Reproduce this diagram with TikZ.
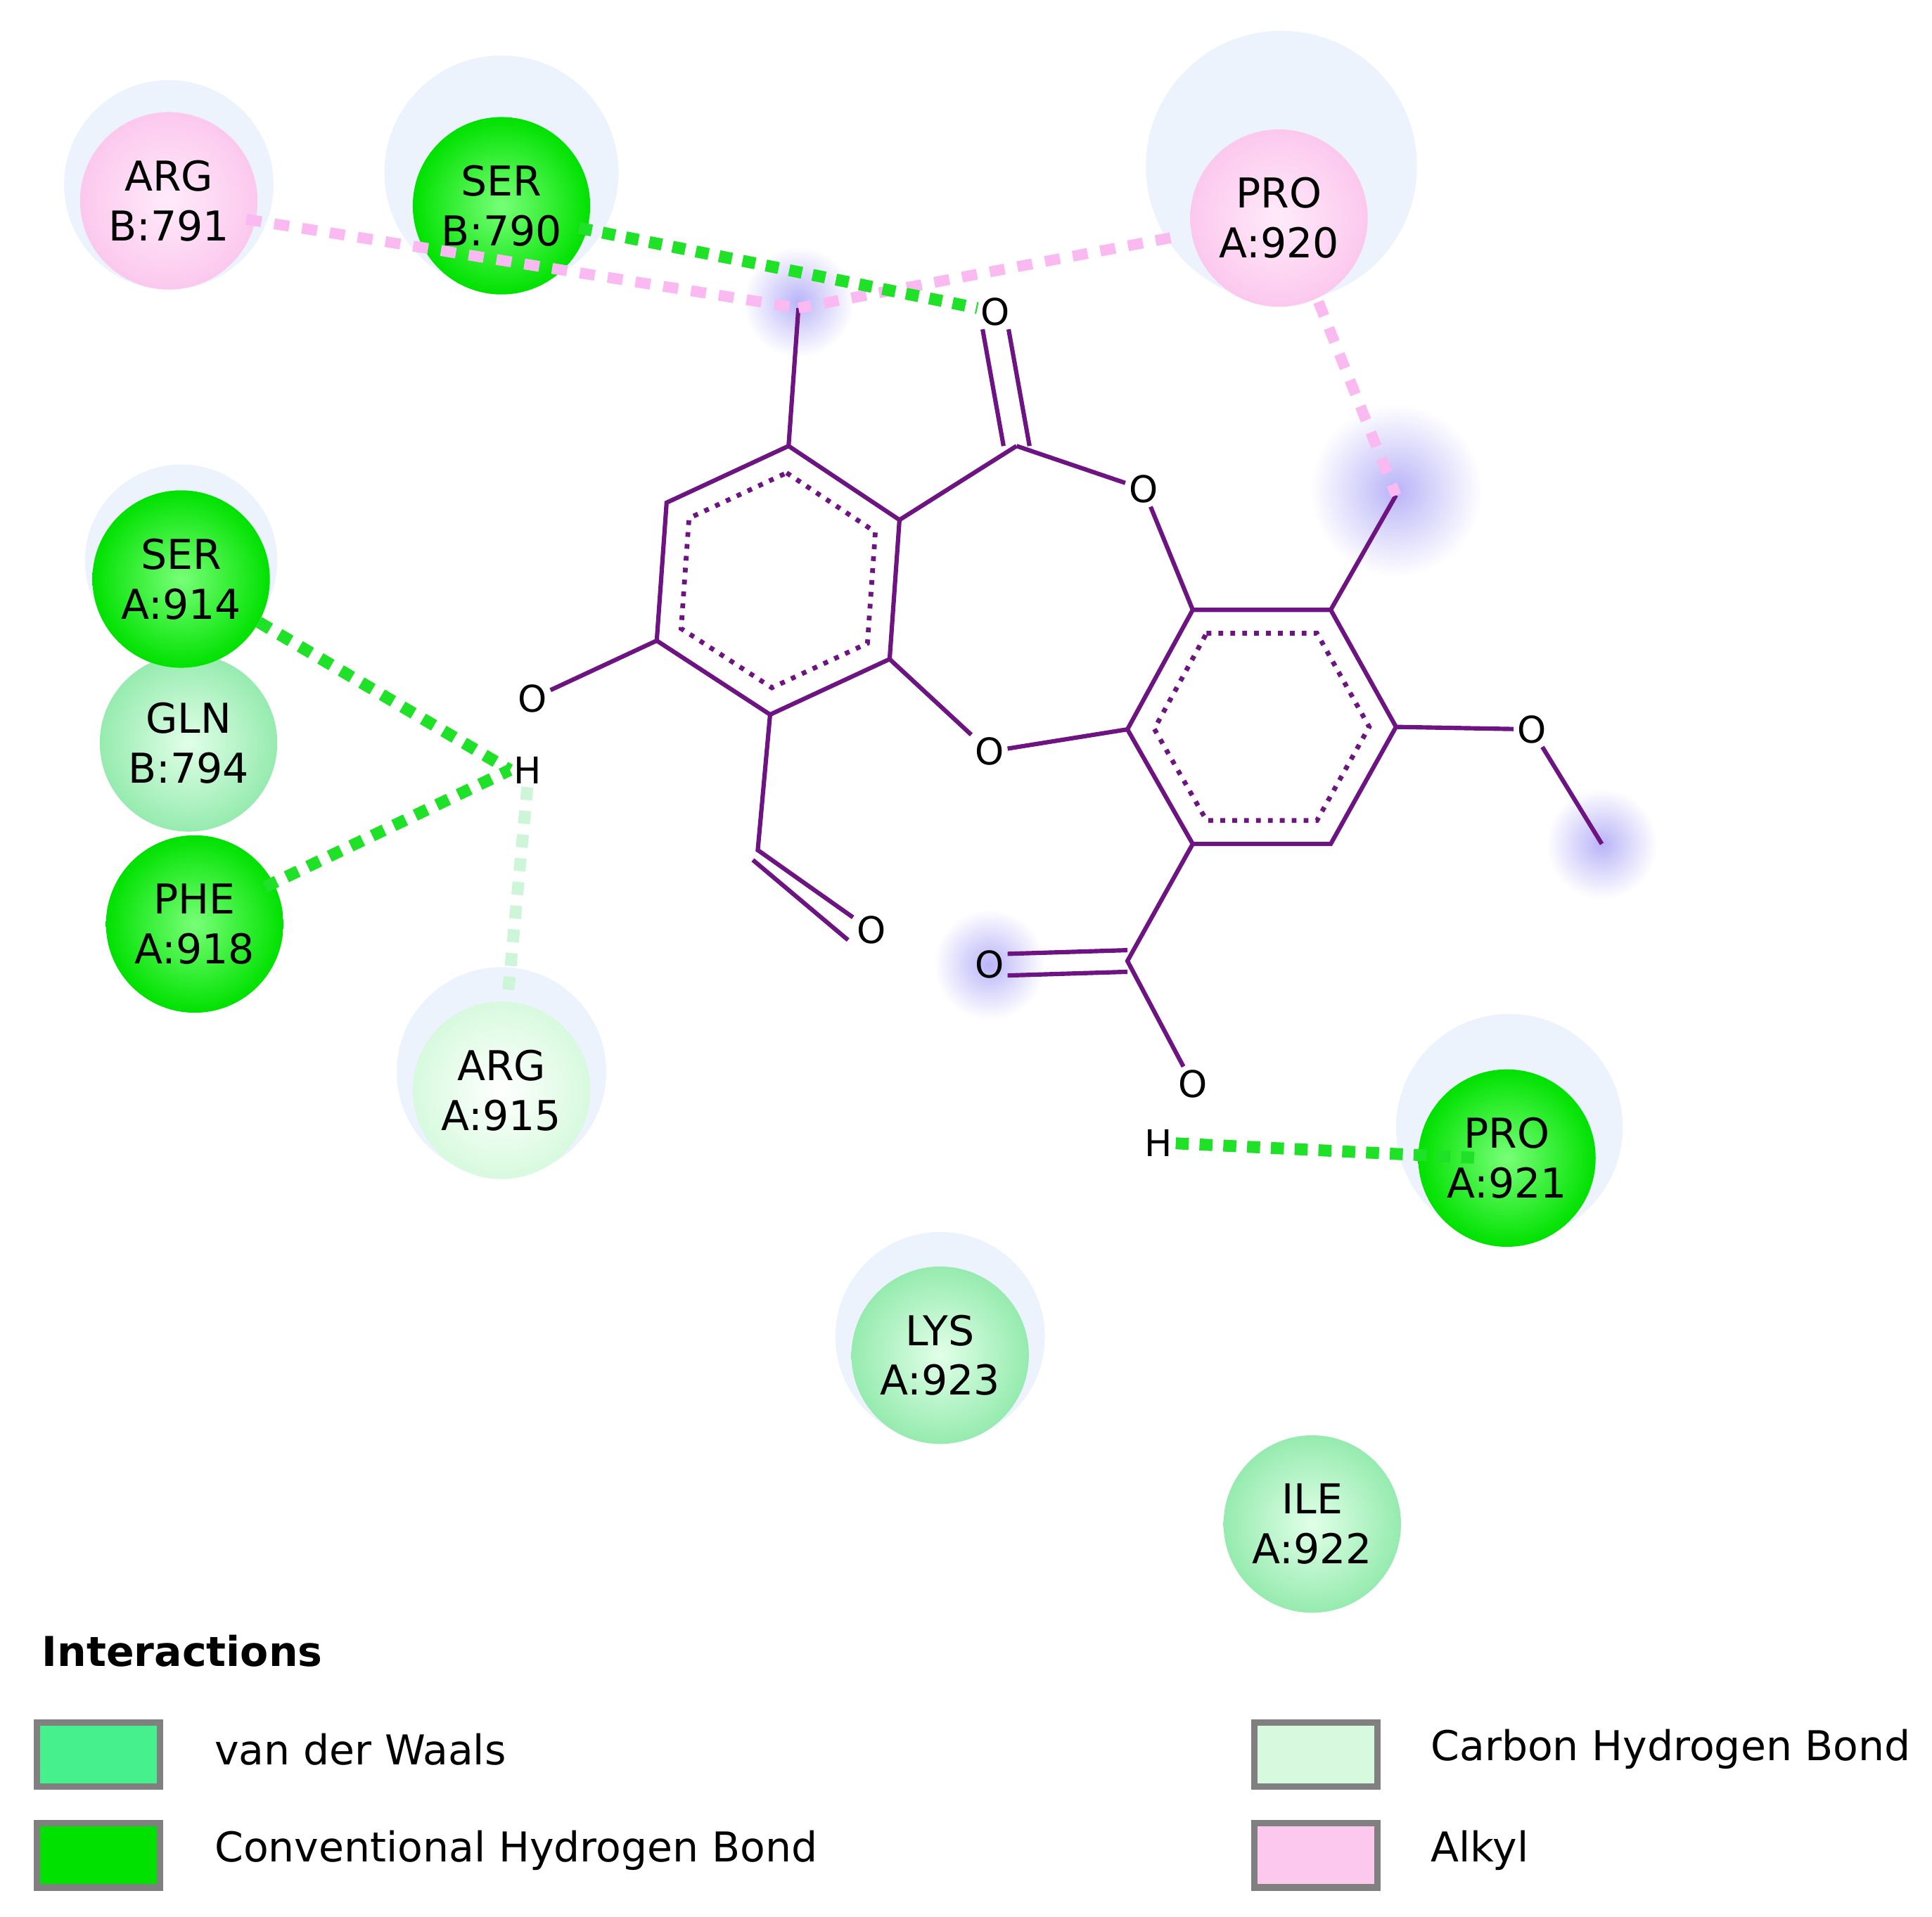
\documentclass[tikz,border=0pt]{standalone}
\usepackage{fontspec}
\setmainfont{DejaVu Sans}
\usetikzlibrary{calc}
\definecolor{mol}{RGB}{110,20,130}
\definecolor{hbd}{RGB}{0,225,0}
\definecolor{hbdin}{RGB}{120,255,120}
\definecolor{vdw}{RGB}{150,235,175}
\definecolor{vdwin}{RGB}{225,255,232}
\definecolor{chb}{RGB}{215,250,222}
\definecolor{alk}{RGB}{252,200,238}
\definecolor{alkin}{RGB}{255,235,250}
\definecolor{halo}{RGB}{236,243,252}
\definecolor{glow}{RGB}{185,180,248}
\definecolor{pinkd}{RGB}{250,185,240}
\definecolor{greend}{RGB}{30,225,40}
\definecolor{paled}{RGB}{205,245,215}
\tikzset{x=0.02cm,y=-0.02cm,
 res/.style={circle,minimum size=144*0.02cm,inner sep=0pt,align=center,font=\fontsize{19}{23}\selectfont,text=black},
 hres/.style={res,shading=radial,inner color=hbdin,outer color=hbd},
 vres/.style={res,shading=radial,inner color=vdwin,outer color=vdw},
 cres/.style={res,shading=radial,inner color=white,outer color=chb},
 ares/.style={res,shading=radial,inner color=alkin,outer color=alk},
 atom/.style={inner sep=1.5pt,font=\fontsize{17}{17}\selectfont,text=black},
 bond/.style={draw=mol,line width=2pt},
 ring/.style={draw=mol,line width=2.2pt,dash pattern=on 2.2pt off 3.3pt},
 hb/.style={draw=greend,line width=5.5pt,dash pattern=on 6pt off 5pt},
 chbd/.style={draw=paled,line width=5.5pt,dash pattern=on 6pt off 5pt},
 alkd/.style={draw=pinkd,line width=5pt,dash pattern=on 7pt off 6pt},
 leg/.style={draw=gray,line width=3pt,minimum width=100*0.02cm,minimum height=52*0.02cm},
 legt/.style={anchor=west,font=\fontsize{19}{23}\selectfont}}
\begin{document}
\begin{tikzpicture}
\useasboundingbox[fill=white] (0,0) rectangle (1568,1556);
% halos
\fill[halo] (137,150) circle (85);
\fill[halo] (407,140) circle (95);
\fill[halo] (1040,135) circle (110);
\fill[halo] (147,455) circle (78);
\fill[halo] (407,870) circle (85);
\fill[halo] (1225,915) circle (92);
\fill[halo] (763,1085) circle (85);
\foreach \p/\r in {(648,245)/45,(1133,398)/70,(1300,685)/45,(803,783)/45}
  \shade[inner color=glow,outer color=white] \p circle (\r);
% atoms
\coordinate (A1) at (640,362); \coordinate (A2) at (730,422); \coordinate (A3) at (722,535);
\coordinate (A4) at (625,580); \coordinate (A5) at (533,520); \coordinate (A6) at (541,408);
\coordinate (AM) at (648,250); \coordinate (CC) at (825,362);
\coordinate (B1) at (968,495); \coordinate (B2) at (1080,495); \coordinate (B3) at (1133,590);
\coordinate (B4) at (1080,685); \coordinate (B5) at (968,685); \coordinate (B6) at (915,592);
\coordinate (BM) at (1133,402); \coordinate (OMC) at (1300,685);
\coordinate (CH) at (615,690); \coordinate (CK) at (915,780);
\coordinate (ac) at (632,471); \coordinate (bc) at (1024,590);
\node[atom] (O1) at (808,253) {O};
\node[atom] (O2) at (928,397) {O};
\node[atom] (O3) at (803,610) {O};
\node[atom] (O4) at (1243,592) {O};
\node[atom] (O5) at (432,567) {O};
\node[atom] (H1) at (428,625) {H};
\node[atom] (O6) at (707,755) {O};
\node[atom] (O7) at (803,783) {O};
\node[atom] (O8) at (968,880) {O};
\node[atom] (H2) at (940,928) {H};
% bonds
\path[bond] (A1)--(A2)--(A3)--(A4)--(A5)--(A6)--cycle;
\path[ring] ($(ac)!0.8!(A1)$)--($(ac)!0.8!(A2)$)--($(ac)!0.8!(A3)$)--($(ac)!0.8!(A4)$)--($(ac)!0.8!(A5)$)--($(ac)!0.8!(A6)$)--cycle;
\path[bond] (B1)--(B2)--(B3)--(B4)--(B5)--(B6)--cycle;
\path[ring] ($(bc)!0.8!(B1)$)--($(bc)!0.8!(B2)$)--($(bc)!0.8!(B3)$)--($(bc)!0.8!(B4)$)--($(bc)!0.8!(B5)$)--($(bc)!0.8!(B6)$)--cycle;
\path[bond] (A1)--(AM); \path[bond] (A2)--(CC); \path[bond] (CC)--(O2); \path[bond] (O2)--(B1);
\path[bond] ([xshift=-6]CC)--([xshift=-6]O1.south); \path[bond] ([xshift=6]CC)--([xshift=6]O1.south);
\path[bond] (A3)--(O3)--(B6); \path[bond] (B2)--(BM); \path[bond] (B3)--(O4)--(OMC);
\path[bond] (A5)--(O5); \path[bond] (A4)--(CH)--(O6);
\path[bond] ([shift={(-4,8)}]CH)--([shift={(-4,8)}]O6.west);
\path[bond] (B5)--(CK)--(O8);
\path[bond] ([yshift=-5]CK)--([yshift=-5]O7.east); \path[bond] ([yshift=5]CK)--([yshift=5]O7.east);
% residues
\node[ares] (r791) at (137,163) {ARG\\B:791};
\node[hres] (r790) at (407,167) {SER\\B:790};
\node[ares] (r920) at (1038,177) {PRO\\A:920};
\node[vres] (r794) at (153,603) {GLN\\B:794};
\node[hres] (r914) at (147,470) {SER\\A:914};
\node[hres] (r918) at (158,750) {PHE\\A:918};
\node[cres] (r915) at (407,885) {ARG\\A:915};
\node[hres] (r921) at (1223,940) {PRO\\A:921};
\node[vres] (r923) at (763,1100) {LYS\\A:923};
\node[vres] (r922) at (1065,1237) {ILE\\A:922};
% interactions
\draw[alkd] ($(r791.center)+(63,15)$) -- (AM);
\draw[alkd] ($(r920.center)+(-88,16)$) -- (AM);
\draw[alkd] ($(r920.center)+(32,68)$) -- (BM);
\draw[hb] ($(r790.center)+(63,18)$) -- (O1);
\draw[hb] ($(r914.center)+(63,35)$) -- (H1.west);
\draw[hb] ($(r918.center)+(57,-30)$) -- (H1.west);
\draw[chbd] (H1.south) -- ($(r915.center)+(5,-75)$);
\draw[hb] (H2.east) -- ($(r921.center)+(-20,0)$);
% legend
\node[anchor=west,font=\bfseries\fontsize{19}{23}\selectfont] (lt) at (28,1340) {Interactions};
\node[leg,fill={rgb,255:red,70;green,240;blue,140}] (l1) at (80,1424) {};
\node[legt] (t1) at (168,1420) {van der Waals};
\node[leg,fill=hbd] (l2) at (80,1506) {};
\node[legt] (t2) at (168,1502) {Conventional Hydrogen Bond};
\node[leg,fill=chb] (l3) at (1068,1424) {};
\node[legt] (t3) at (1155,1420) {Carbon Hydrogen Bond};
\node[leg,fill=alk] (l4) at (1068,1506) {};
\node[legt] (t4) at (1155,1502) {Alkyl};
\end{tikzpicture}
\end{document}
